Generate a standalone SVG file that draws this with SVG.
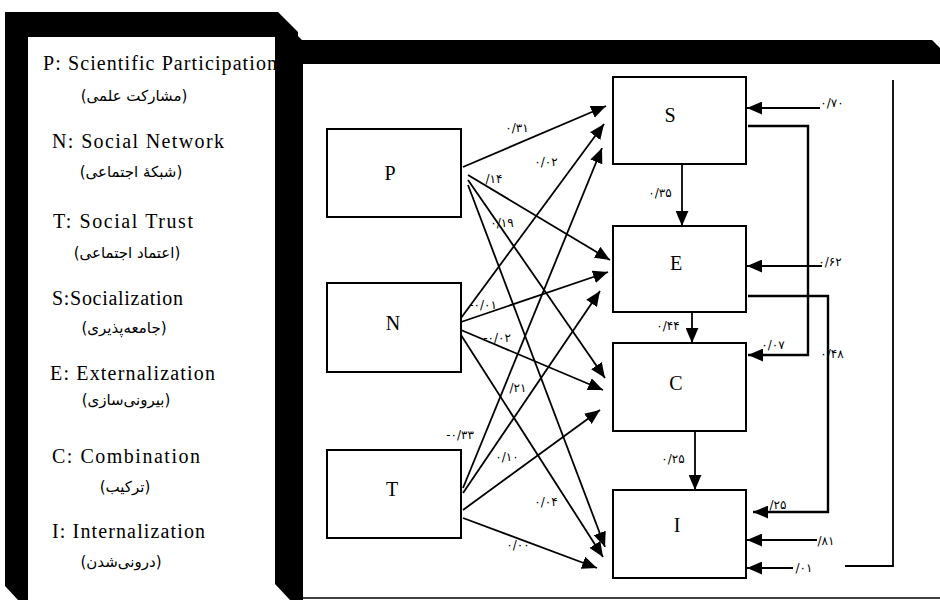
<svg xmlns="http://www.w3.org/2000/svg" width="940" height="600" viewBox="0 0 940 600">
<defs>
<style>
.box{fill:#fff;stroke:#000;stroke-width:2}
.nl{font-family:"Liberation Serif","Times New Roman",serif;font-size:20px;fill:#000;text-anchor:middle}
.lg{font-family:"Liberation Serif","Times New Roman",serif;font-size:20px;fill:#000}
.fa{font-family:"DejaVu Sans",sans-serif;font-size:15px;fill:#000;text-anchor:middle;direction:rtl;unicode-bidi:embed}
.num{font-family:"DejaVu Sans",sans-serif;font-size:12px;fill:#000;text-anchor:middle;direction:ltr}
.frame{fill:#000}
</style>
<marker id="ah" viewBox="0 0 14 12" refX="14" refY="6" markerWidth="15" markerHeight="13" orient="auto" markerUnits="userSpaceOnUse">
<path d="M0,0 L14,6 L0,12 z" fill="#000"/>
</marker>
</defs>
<rect width="940" height="600" fill="#fff"/>

<g id="legend">
<text class="lg" x="43" y="70" textLength="234" lengthAdjust="spacing">P: Scientific Participation</text>
<text class="fa" x="134" y="101">(مشارکت علمی)</text>
<text class="lg" x="52" y="148" textLength="172" lengthAdjust="spacing">N: Social Network</text>
<text class="fa" x="131" y="177">(شبکهٔ اجتماعی)</text>
<text class="lg" x="53" y="228" textLength="140" lengthAdjust="spacing">T: Social Trust</text>
<text class="fa" x="127" y="258">(اعتماد اجتماعی)</text>
<text class="lg" x="52" y="305" textLength="131" lengthAdjust="spacing">S:Socialization</text>
<text class="fa" x="124" y="333">(جامعه‌پذیری)</text>
<text class="lg" x="50" y="380" textLength="165" lengthAdjust="spacing">E: Externalization</text>
<text class="fa" x="126" y="405">(بیرونی‌سازی)</text>
<text class="lg" x="52" y="463" textLength="148" lengthAdjust="spacing">C: Combination</text>
<text class="fa" x="125" y="492">(ترکیب)</text>
<text class="lg" x="52" y="538" textLength="153" lengthAdjust="spacing">I: Internalization</text>
<text class="fa" x="121" y="567">(درونی‌شدن)</text>
</g>

<g id="frame">
<path class="frame" d="M5,12 L278,12 L298,32 L298,37 L28,37 L28,588 L28,600 L18,600 L5,586 Z"/>
<path class="frame" d="M275,30 L290,28 L302,40 L932,40 L940,48 L940,64 L303,64 L303,600 L290,600 L275,584 Z"/>
<line x1="303" y1="598" x2="940" y2="598" stroke="#000" stroke-width="1.5"/>
</g>

<g id="connectors" fill="none" stroke="#000" stroke-width="1.8">
<path d="M463,167 L606,106" marker-end="url(#ah)"/>
<path d="M468,175 L610,260" marker-end="url(#ah)"/>
<path d="M468,180 L605,378" marker-end="url(#ah)"/>
<path d="M468,185 L605,547" marker-end="url(#ah)"/>
<path d="M461,318 L604,124" marker-end="url(#ah)"/>
<path d="M461,322 L608,272" marker-end="url(#ah)"/>
<path d="M461,330 L603,390" marker-end="url(#ah)"/>
<path d="M461,335 L603,557" marker-end="url(#ah)"/>
<path d="M463,488 L602,148" marker-end="url(#ah)"/>
<path d="M463,493 L600,291" marker-end="url(#ah)"/>
<path d="M463,510 L600,410" marker-end="url(#ah)"/>
<path d="M463,518 L597,568" marker-end="url(#ah)"/>
<path d="M682,164 L682,226" marker-end="url(#ah)"/>
<path d="M692,312 L692,343" marker-end="url(#ah)"/>
<path d="M695,431 L695,490" marker-end="url(#ah)"/>
<path d="M820,108 L747,108" marker-end="url(#ah)"/>
<path d="M748,126 L808,126 L808,355 L748,355" stroke-width="2.4" marker-end="url(#ah)"/>
<path d="M822,266 L747,266" marker-end="url(#ah)"/>
<path d="M748,296 L828,296 L828,512 L753,512" stroke-width="2.4" marker-end="url(#ah)"/>
<path d="M817,540 L747,540" marker-end="url(#ah)"/>
<path d="M793,568 L747,568" marker-end="url(#ah)"/>
<path d="M845,566 L893,566 L893,80"/>
</g>

<g id="labels">
<text class="num" x="517" y="132">۰/۳۱</text>
<text class="num" x="546" y="166">۰/۰۲</text>
<text class="num" x="494" y="183">/۱۴</text>
<text class="num" x="502" y="227">۰/۱۹</text>
<text class="num" x="483" y="309">-۰/۰۱</text>
<text class="num" x="497" y="342">-۰/۰۲</text>
<text class="num" x="518" y="392">/۲۱</text>
<text class="num" x="460" y="439">-۰/۳۳</text>
<text class="num" x="507" y="461">۰/۱۰</text>
<text class="num" x="546" y="506">۰/۰۴</text>
<text class="num" x="518" y="549">۰/۰۰</text>
<text class="num" x="660" y="197">۰/۳۵</text>
<text class="num" x="668" y="330">۰/۴۴</text>
<text class="num" x="673" y="463">۰/۲۵</text>
<text class="num" x="832" y="107">۰/۷۰</text>
<text class="num" x="830" y="266">۰/۶۲</text>
<text class="num" x="773" y="349">۰/۰۷</text>
<text class="num" x="832" y="358">۰/۴۸</text>
<text class="num" x="778" y="509">/۲۵</text>
<text class="num" x="826" y="545">/۸۱</text>
<text class="num" x="804" y="572">/۰۱</text>
</g>

<g id="node-P"><rect class="box" x="327" y="129" width="134" height="88"/><text class="nl" x="390" y="180">P</text></g>
<g id="node-N"><rect class="box" x="327" y="283" width="134" height="89"/><text class="nl" x="393" y="330">N</text></g>
<g id="node-T"><rect class="box" x="327" y="450" width="134" height="88"/><text class="nl" x="392" y="496">T</text></g>
<g id="node-S"><rect class="box" x="613" y="77" width="133" height="87"/><text class="nl" x="670" y="122">S</text></g>
<g id="node-E"><rect class="box" x="613" y="226" width="133" height="86"/><text class="nl" x="676" y="270">E</text></g>
<g id="node-C"><rect class="box" x="613" y="343" width="133" height="88"/><text class="nl" x="676" y="390">C</text></g>
<g id="node-I"><rect class="box" x="613" y="490" width="133" height="88"/><text class="nl" x="677" y="532">I</text></g>
</svg>
